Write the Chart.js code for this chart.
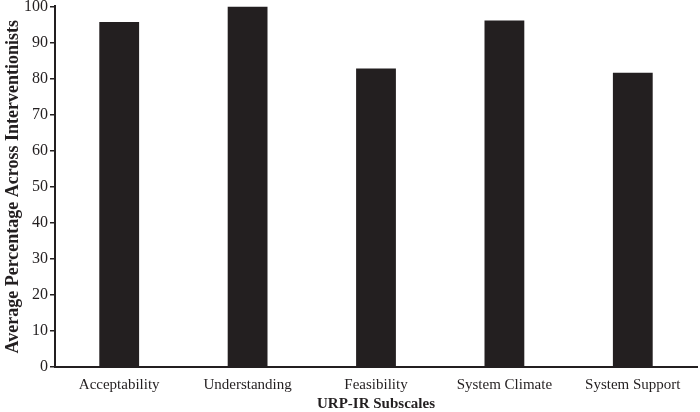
<!DOCTYPE html>
<html>
<head>
<meta charset="utf-8">
<script src="https://cdn.jsdelivr.net/npm/chart.js@4"></script>
<style>
  html, body { margin: 0; padding: 0; background: #fff; }
  #wrap { width: 700px; height: 412px; }
</style>
</head>
<body>
<div id="wrap"><canvas id="grafik"></canvas></div>
<script>
const kategoriler = ["Acceptability", "Understanding", "Feasibility", "System Climate", "System Support"];
const ortalamalar = [95.7, 100, 82.8, 96.1, 81.6];
const yEksenMin = 0;
const yEksenMax = 100;
const yAdim = 10;

const koyu = "#231f20";
const font = "'Liberation Serif', 'Times New Roman', serif";

const ctx = document.getElementById("grafik").getContext("2d");
new Chart(ctx, {
  type: "bar",
  data: {
    labels: kategoriler,
    datasets: [{
      data: ortalamalar,
      backgroundColor: koyu,
      borderWidth: 0,
      categoryPercentage: 1,
      barPercentage: 0.31
    }]
  },
  options: {
    responsive: true,
    maintainAspectRatio: false,
    animation: false,
    layout: { padding: { top: 0, right: 3, left: 4, bottom: 0 } },
    plugins: {
      legend: { display: false },
      tooltip: { enabled: false }
    },
    scales: {
      x: {
        grid: { display: false },
        border: { color: koyu, width: 2 },
        ticks: { color: koyu, font: { family: font, size: 15, lineHeight: 1.1 }, padding: 2 },
        title: {
          display: true,
          text: "URP-IR Subscales",
          color: koyu,
          font: { family: font, size: 15, weight: "bold", lineHeight: 1.1 },
          padding: { top: 0, bottom: 0 }
        }
      },
      y: {
        min: yEksenMin,
        max: yEksenMax,
        // lineHeight kucuk: ust bosluk az olsun
        ticks: { stepSize: yAdim, color: koyu, font: { family: font, size: 16, lineHeight: 0.55 }, padding: 2 },
        grid: { drawOnChartArea: false, drawTicks: true, tickLength: 5, color: koyu, lineWidth: 1.5 },
        border: { color: koyu, width: 2 },
        title: {
          display: true,
          text: "Average Percentage Across Interventionists",
          color: koyu,
          font: { family: font, size: 18, weight: "bold", lineHeight: 1 },
          padding: { top: 0, bottom: 0 }
        }
      }
    }
  }
});
</script>
</body>
</html>
